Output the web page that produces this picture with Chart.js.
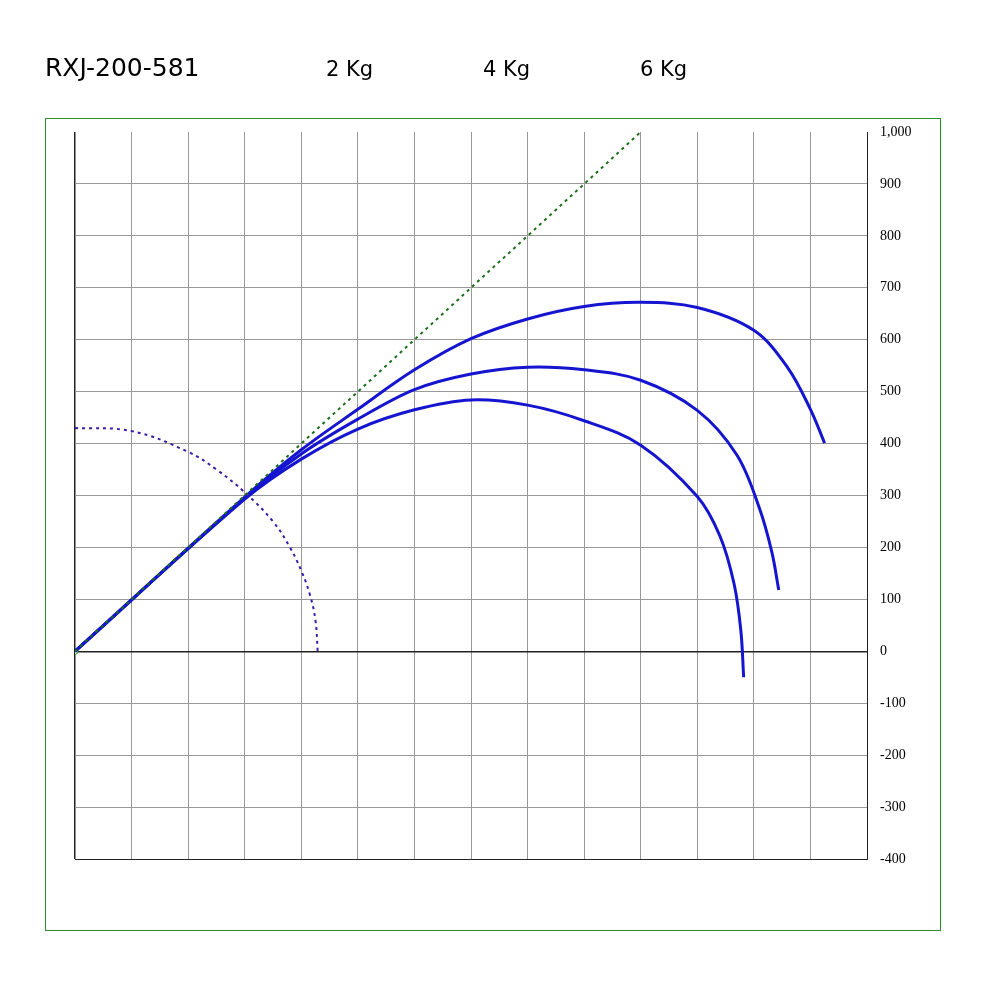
<!DOCTYPE html>
<html><head><meta charset="utf-8">
<script src="https://cdn.jsdelivr.net/npm/chart.js@4/dist/chart.umd.min.js"></script>
<style>body{margin:0;background:#fff}#w{width:989px;height:1000px;position:relative}</style>
</head><body><div id="w"><canvas id="c"></canvas></div>
<script>
const title = "RXJ-200-581";
const seriesLabels = ["2 Kg", "4 Kg", "6 Kg"];
const yTicks = [1000,900,800,700,600,500,400,300,200,100,0,-100,-200,-300,-400];
const curve2 = [[0,0],[300,297],[400,388],[500,466],[600,542],[700,602],[800,640],[900,664],[1000,672],[1100,662],[1200,618],[1260,546],[1300,466],[1325,401]];
const curve4 = [[0,0],[300,295],[400,380],[500,447],[600,504],[700,534],[800,547],[900,542],[1000,522],[1100,464],[1170,378],[1210,275],[1232,190],[1244,118]];
const curve6 = [[0,0],[300,293],[400,370],[500,428],[600,465],[700,484],[800,474],[900,444],[1000,397],[1100,298],[1140,222],[1165,130],[1177,40],[1182,-50]];
const guideLine = [[0,0],[1000,1000]];
const circle = [[0,430],[100,424],[200,384],[250,350],[300,306],[350,250],[380,200],[400,155],[415,110],[425,60],[429,0]];
const pts = a => a.map(([x,y]) => ({x,y}));
const deco = {id:'deco', afterDraw(ch){
  const c = ch.ctx; c.save();
  c.strokeStyle = '#2e8b2e'; c.lineWidth = 1; c.strokeRect(45.5,118.5,895,812);
  c.fillStyle = '#000'; c.textBaseline = 'alphabetic';
  c.font = '25px "DejaVu Sans"'; c.fillText(title, 45, 76);
  c.font = '21px "DejaVu Sans"';
  [326,483,640].forEach((x,i)=>c.fillText(seriesLabels[i], x, 76));
  c.restore();
}};
new Chart(document.getElementById('c'), {
  type:'scatter',
  data:{datasets:[
    {data:pts(guideLine), showLine:true, borderColor:'#1a6e1a', borderWidth:2, borderDash:[3,4], pointRadius:0, tension:0},
    {data:pts(circle), showLine:true, borderColor:'#3a1aa8', borderWidth:2, borderDash:[3,4], pointRadius:0, tension:0.4},
    {data:pts(curve2), showLine:true, borderColor:'#1515d0', borderWidth:3, pointRadius:0, tension:0.35},
    {data:pts(curve4), showLine:true, borderColor:'#1515d0', borderWidth:3, pointRadius:0, tension:0.35},
    {data:pts(curve6), showLine:true, borderColor:'#1515d0', borderWidth:3, pointRadius:0, tension:0.35},
    {data:[{x:0,y:0}], pointRadius:3, pointBackgroundColor:'#fff', pointBorderColor:'#2a9a2a', borderWidth:1}
  ]},
  options:{responsive:true, maintainAspectRatio:false, animation:false,
    layout:{padding:{left:75,top:132,right:62,bottom:141}},
    plugins:{legend:{display:false}, tooltip:{enabled:false}},
    scales:{
      x:{type:'linear', min:0, max:1400, ticks:{display:false, stepSize:100},
        grid:{color:c=>c.tick.value===0?'#222':'#999', lineWidth:c=>c.tick.value===0?1.5:1, drawTicks:false},
        border:{display:true,color:'#222'}, afterFit(s){s.height=0;}},
      y:{type:'linear', position:'right', min:-400, max:1000,
        afterBuildTicks(s){s.ticks = yTicks.map(v=>({value:v}));},
        ticks:{color:'#000', font:{family:'"Liberation Serif"', size:14}, padding:13,
          callback:v=>v.toLocaleString('en-US')},
        grid:{color:c=>c.tick.value===0?'#222':(c.tick.value===1000?'rgba(0,0,0,0)':'#999'), lineWidth:c=>c.tick.value===0?1.5:1, drawTicks:false},
        border:{display:true,color:'#222'}, afterFit(s){s.width=60;}}
    }},
  plugins:[deco]
});
</script></body></html>
